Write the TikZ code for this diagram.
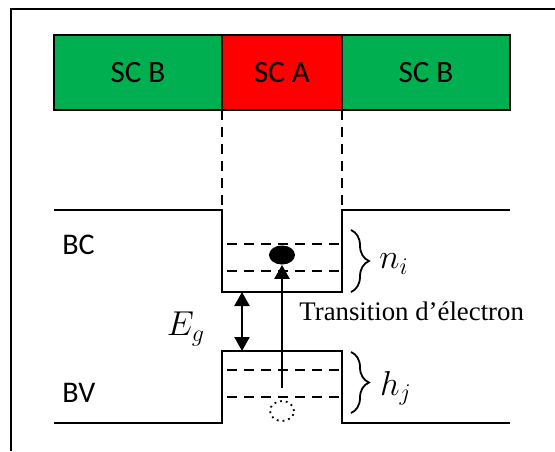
\documentclass[tikz,border=0pt]{standalone}
\usepackage{fontspec}
\setmainfont{Carlito}
\newfontfamily\serifface{Liberation Serif}
\usetikzlibrary{arrows.meta,positioning,calc,shapes.geometric,decorations.pathreplacing}
\definecolor{scgreen}{RGB}{0,176,80}
\definecolor{scred}{RGB}{255,0,0}
\tikzset{
  layer/.style={draw=black, line width=1.1pt, minimum height=37.5pt, inner sep=0pt,
    outer sep=0pt, font=\fontsize{15.5}{18}\selectfont},
  frame/.style={line width=1.1pt, black},
  band/.style={line width=1.4pt, black},
  guide/.style={line width=1.2pt, dash pattern=on 5pt off 3.5pt},
  level/.style={line width=1.2pt, dash pattern=on 5pt off 3.5pt},
  gaparr/.style={{Triangle[length=7pt,width=7.5pt]}-{Triangle[length=7pt,width=7.5pt]}, line width=1.2pt},
  transarr/.style={-{Triangle[length=7pt,width=7.5pt]}, line width=1.2pt, shorten <=6pt},
  curly/.style={decorate, decoration={brace, amplitude=9pt}, line width=0.9pt},
  bandlbl/.style={font=\fontsize{15}{18}\selectfont, inner sep=0pt, anchor=west},
  mathlbl/.style={font=\fontsize{16.5}{19}\selectfont, inner sep=0pt},
  translbl/.style={font=\serifface\fontsize{13.4}{16}\selectfont, inner sep=0pt, anchor=west},
  electron/.style={ellipse, fill=black, minimum width=13pt, minimum height=9.5pt, inner sep=0pt},
  hole/.style={ellipse, draw, dotted, line width=0.9pt, minimum width=12pt, minimum height=10pt, inner sep=0pt}
}

\begin{document}
\begin{tikzpicture}[x=0.5pt,y=-0.5pt]
  \useasboundingbox (0,0) rectangle (555,451);
  \draw[frame] (11,451) -- (11,9) -- (555,9);

  \node[layer, fill=scgreen, minimum width=84pt, anchor=north west] (scbleft) at (54,35) {SC B};
  \node[layer, fill=scred, minimum width=60pt, right=0pt of scbleft] (sca) {SC A};
  \node[layer, fill=scgreen, minimum width=84pt, right=0pt of sca] (scbright) {SC B};

  \coordinate (bcl) at (54,210);
  \coordinate (wcl) at (222,210);
  \coordinate (wbl) at (222,292);
  \coordinate (wbr) at (342,292);
  \coordinate (wcr) at (342,210);
  \coordinate (bcr) at (510,210);
  \coordinate (bvl) at (54,423);
  \coordinate (vbl) at (222,423);
  \coordinate (vtl) at (222,351);
  \coordinate (vtr) at (342,351);
  \coordinate (vbr) at (342,423);
  \coordinate (bvr) at (510,423);

  \draw[guide] (sca.south west) -- (wcl);
  \draw[guide] (sca.south east) -- (wcr);

  \draw[band] (bcl) -- (wcl) -- (wbl) -- (wbr) -- (wcr) -- (bcr);
  \draw[band] (bvl) -- (vbl) -- (vtl) -- (vtr) -- (vbr) -- (bvr);

  \foreach \y in {244,271,370,397}
    \draw[level] (227,\y) -- (342,\y);

  \node[electron] (elec) at (282,255) {};
  \node[hole] (hl) at (282,411) {};
  \draw[transarr] (hl.north) -- (elec.south);

  \coordinate (gtop) at (242,292);
  \coordinate (gbot) at (242,351);
  \draw[gaparr] (gtop) -- (gbot);

  \coordinate (nitop) at (351,230);
  \coordinate (nibot) at (351,292);
  \draw[curly] (nitop) -- (nibot);
  \coordinate (hjtop) at (351,352);
  \coordinate (hjbot) at (351,413);
  \draw[curly] (hjtop) -- (hjbot);

  \node[bandlbl] (bc) at (62,245) {BC};
  \node[bandlbl] (bv) at (62,393) {BV};
  \node[mathlbl] (eg) at (186,329) {$E_g$};
  \node[mathlbl] (ni) at (394,264) {$n_i$};
  \node[mathlbl] (hj) at (396,388) {$h_j$};
  \node[translbl] (trans) at (299,311) {Transition d’électron};
\end{tikzpicture}
\end{document}
